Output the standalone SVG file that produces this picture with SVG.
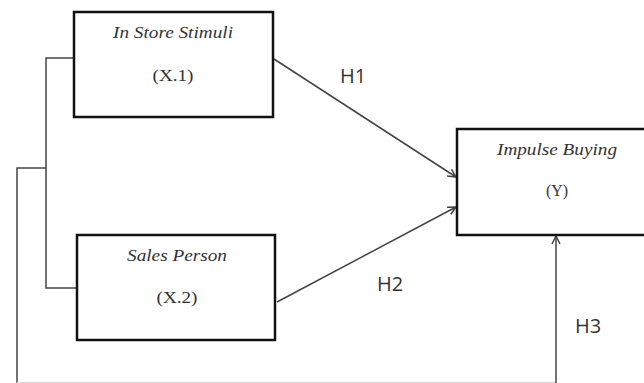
<svg xmlns="http://www.w3.org/2000/svg" width="644" height="383" viewBox="0 0 644 383">
<defs>
<style>
.box{fill:#fff;stroke:#111;stroke-width:2.5}
.lbl{font-family:"Liberation Serif",serif;font-style:italic;font-size:17px;fill:#333;text-anchor:middle}
.sub{font-family:"Liberation Serif",serif;font-size:16px;fill:#333;text-anchor:middle}
.h{font-family:"Open Sans","Liberation Sans",sans-serif;font-size:20px;fill:#333}
.c{fill:none;stroke:#444;stroke-width:1.5}
</style>
<marker id="arr" markerWidth="10" markerHeight="10" refX="9" refY="5" orient="auto" markerUnits="userSpaceOnUse">
<path d="M1,1 L9,5 L1,9" fill="none" stroke="#444" stroke-width="1.5"/>
</marker>
</defs>
<g id="connectors">
<polyline class="c" points="74,58 46,58 46,288 77,288"/>
<polyline class="c" points="46,168 17,168 17,383"/>
<line x1="17" y1="382.5" x2="556" y2="382.5" style="stroke:#ddd;stroke-width:1.5"/>
<line class="c" x1="556" y1="383" x2="556" y2="236" marker-end="url(#arr)"/>
<line class="c" x1="274" y1="59" x2="456" y2="177" marker-end="url(#arr)"/>
<line class="c" x1="277" y1="302" x2="456" y2="207" marker-end="url(#arr)"/>
<text class="h" x="340" y="83">H1</text>
<text class="h" x="377" y="291">H2</text>
<text class="h" x="575" y="333">H3</text>
</g>
<g id="x1">
<rect class="box" x="74" y="12" width="199" height="105"/>
<text class="lbl" x="173" y="38" textLength="120" lengthAdjust="spacingAndGlyphs">In Store Stimuli</text>
<text class="sub" x="173" y="81" textLength="41" lengthAdjust="spacingAndGlyphs">(X.1)</text>
</g>
<g id="x2">
<rect class="box" x="77" y="235" width="198" height="105"/>
<text class="lbl" x="177" y="261" textLength="100" lengthAdjust="spacingAndGlyphs">Sales Person</text>
<text class="sub" x="177" y="303" textLength="41" lengthAdjust="spacingAndGlyphs">(X.2)</text>
</g>
<g id="y">
<rect class="box" x="457" y="129" width="200" height="106"/>
<text class="lbl" x="557" y="155" textLength="120" lengthAdjust="spacingAndGlyphs">Impulse Buying</text>
<text class="sub" x="557" y="196">(Y)</text>
</g>
</svg>
